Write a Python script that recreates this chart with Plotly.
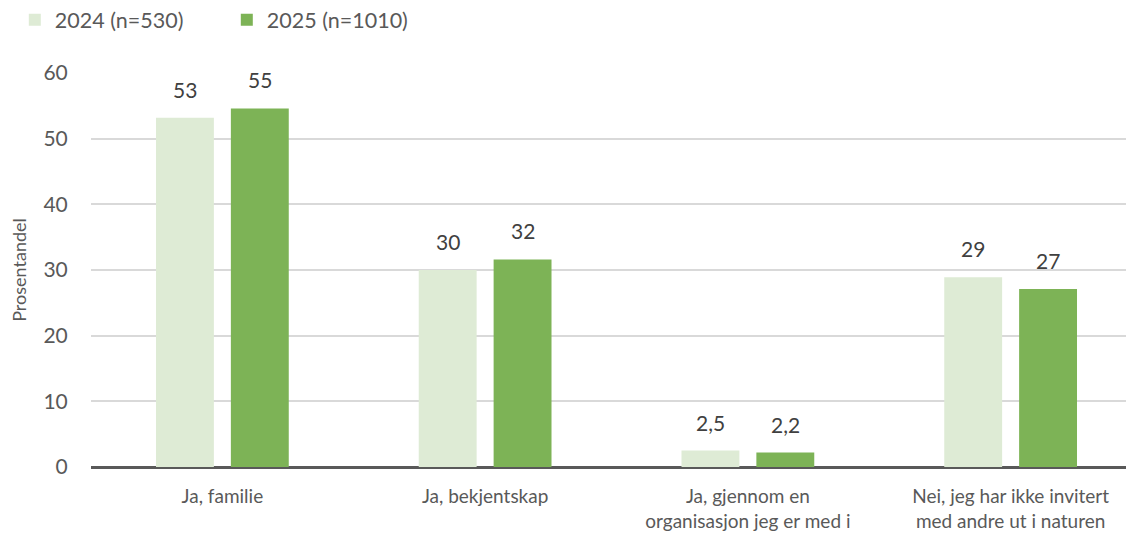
import plotly.graph_objects as go

categories = ["Ja, familie", "Ja, bekjentskap", "Ja, gjennom en<br>organisasjon jeg er med i",
              "Nei, jeg har ikke invitert<br>med andre ut i naturen"]
series_names = ["2024 (n=530)", "2025 (n=1010)"]
values_2024 = [53.2, 30.0, 2.5, 28.9]
values_2025 = [54.6, 31.6, 2.2, 27.1]
colors = ["#DEEBD5", "#7DB356"]
y_ticks = [0, 10, 20, 30, 40, 50, 60]

FONT = "Lato, Nunito, sans-serif"
TXT = "#595959"

def fmt(v):
    return f"{v:.0f}" if v >= 10 else f"{v:.1f}".replace(".", ",")

fig = go.Figure()
for name, vals, col in zip(series_names, [values_2024, values_2025], colors):
    fig.add_trace(go.Bar(x=categories, y=vals, name=name, marker_color=col,
                         marker_line_width=0, hoverinfo="skip"))

for vals, xs in [(values_2024, -37.5), (values_2025, 37.5)]:
    for c, v in zip(categories, vals):
        fig.add_annotation(x=c, y=v, text=fmt(v), showarrow=False, yanchor="bottom",
                           xshift=xs, yshift=14, font=dict(family=FONT, size=21, color="#404040"))

fig.update_layout(
    width=1134, height=537,
    margin=dict(l=83, r=0, t=65, b=78, autoexpand=False),
    paper_bgcolor="white", plot_bgcolor="white",
    barmode="group", bargap=0.43, bargroupgap=0.227,
    font=dict(family=FONT, color=TXT),
    legend=dict(orientation="h", xref="container", yref="container", x=0.006, y=0.978,
                xanchor="left", yanchor="middle",
                font=dict(family=FONT, size=21.5, color=TXT),
                traceorder="normal", entrywidth=167),
    showlegend=True,
)
fig.update_xaxes(range=[-0.5, 3.5], showgrid=False, showline=False, zeroline=False,
                 automargin=False,
                 ticks="outside", ticklen=12, tickcolor="rgba(0,0,0,0)",
                 tickfont=dict(family=FONT, size=19, color=TXT))
fig.update_yaxes(range=[0, 60], tickvals=y_ticks, showgrid=True, gridcolor="#D9D9D9", gridwidth=1.5,
                 automargin=False,
                 zeroline=True, zerolinecolor="#595959", zerolinewidth=3, showline=False,
                 ticks="outside", ticklen=18, tickcolor="rgba(0,0,0,0)",
                 tickfont=dict(family=FONT, size=21, color=TXT),
                 title=dict(text="Prosentandel", font=dict(family=FONT, size=18, color=TXT), standoff=14))

fig.write_html("out.html")
